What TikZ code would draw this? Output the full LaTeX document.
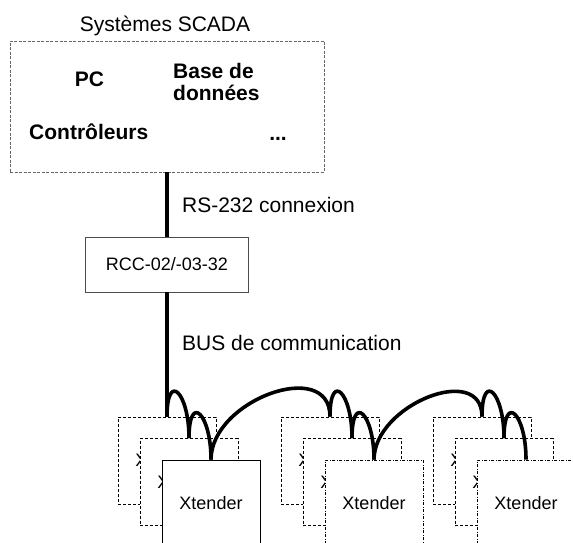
\documentclass[tikz,border=0pt]{standalone}
\usepackage{fontspec}
\setmainfont{Liberation Sans}
\usetikzlibrary{positioning}

\tikzset{
  big/.style={font=\fontsize{21}{22}\selectfont, inner sep=0pt},
  bigbold/.style={big, font=\fontsize{21}{22}\selectfont\bfseries},
  scadabox/.style={draw=black!60, line width=0.9pt, dash pattern=on 3pt off 1.5pt,
    minimum width=314pt, minimum height=131pt},
  rccbox/.style={draw=black!70, line width=0.9pt, fill=white, minimum width=163pt,
    minimum height=55pt, font=\fontsize{18}{20}\selectfont},
  xbox/.style={draw, fill=white, line width=0.9pt, minimum width=98pt,
    minimum height=87pt, inner sep=0pt, font=\fontsize{18}{20}\selectfont},
  xback/.style={xbox, dash pattern=on 3pt off 2pt},
  xfront/.style={xbox, dash pattern=on 3pt off 1.5pt on 1pt off 1.5pt},
  bus/.style={line width=4.2pt},
  wire/.style={line width=3.6pt, looseness=3.8},
  longwire/.style={line width=3.6pt, looseness=1.2},
}

\begin{document}
\begin{tikzpicture}[x=1pt, y=-1pt, node distance=22pt, on grid]
  \clip (0,0) rectangle (573,543);

  % SCADA side
  \node[scadabox] (scada) at (167,106.5) {};
  \node[big, anchor=base] (scadatitle) at (165,32) {Systèmes SCADA};
  \node[bigbold, anchor=base] (pc) at (89.5,87) {PC};
  \node[bigbold, anchor=north west, align=left] (bdd) at (173,63) {Base de\\données};
  \node[bigbold, anchor=base west] (ctrl) at (29,139) {Contrôleurs};
  \node[bigbold, anchor=base east] (more) at (287,140) {...};

  \node[rccbox] (rcc) at (167,264.5) {RCC-02/-03-32};

  % Xtender groups, back to front
  \node[xback] (x11) at (167,460.5) {Xtender};
  \node[xback] (x12) [below right=21.5pt and 22pt of x11] {Xtender};
  \node[xbox] (x13) [below right=21.5pt and 22pt of x12] {Xtender};

  \node[xback] (x21) at (330,460.5) {Xtender};
  \node[xback] (x22) [below right=21.5pt and 22pt of x21] {Xtender};
  \node[xfront] (x23) [below right=21.5pt and 22pt of x22] {Xtender};

  \node[xback] (x31) at (482,460.5) {Xtender};
  \node[xback] (x32) [below right=21.5pt and 22pt of x31] {Xtender};
  \node[xfront] (x33) [below right=21.5pt and 22pt of x32] {Xtender};

  % connections
  \draw[bus] (scada.south) -- node[big, right=13pt, midway] {RS-232 connexion} (rcc.north);
  \draw[bus] (rcc.south) -- node[big, right=13pt, pos=0.41] {BUS de communication} (x11.north);

  \draw[wire] (x11.north) to[out=90,in=90] (x12.north);
  \draw[wire] (x12.north) to[out=90,in=90] (x13.north);
  \draw[longwire] (x13.north) to[out=90,in=90] (x21.north);
  \draw[wire] (x21.north) to[out=90,in=90] (x22.north);
  \draw[wire] (x22.north) to[out=90,in=90] (x23.north);
  \draw[longwire] (x23.north) to[out=90,in=90] (x31.north);
  \draw[wire] (x31.north) to[out=90,in=90] (x32.north);
  \draw[wire] (x32.north) to[out=90,in=90] (x33.north);
\end{tikzpicture}
\end{document}
